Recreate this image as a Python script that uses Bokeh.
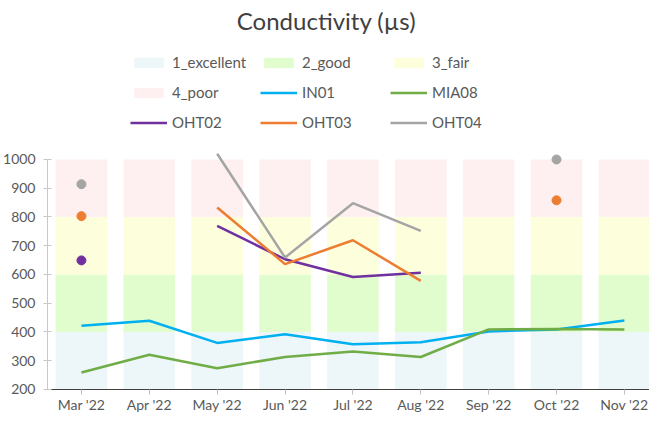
import math
from bokeh.plotting import figure
from bokeh.models import (Legend, LegendItem, FixedTicker, Range1d, Label,
                          LinearAxis)
from bokeh.embed import file_html
from bokeh.resources import INLINE

nan = float("nan")

months = ["Mar '22", "Apr '22", "May '22", "Jun '22", "Jul '22",
          "Aug '22", "Sep '22", "Oct '22", "Nov '22"]

band_names = ["1_excellent", "2_good", "3_fair", "4_poor"]
band_edges = [200, 400, 600, 800, 1000]
band_colors = ["#edf6f9", "#e2fdcd", "#fdfedc", "#fef0f0"]

series_names = ["IN01", "MIA08", "OHT02", "OHT03", "OHT04"]
IN01 = [422, 439, 362, 392, 357, 364, 402, 409, 440]
MIA08 = [259, 321, 274, 313, 332, 313, 409, 410, 409]
OHT02 = [649, nan, 769, 653, 591, 606, nan, nan, nan]
OHT03 = [803, nan, 833, 636, 719, 578, nan, 858, nan]
OHT04 = [914, nan, 1020, 659, 848, 752, nan, 1000, nan]
series_colors = ["#00b0f0", "#70ad47", "#7030a0", "#ed7d31", "#a5a5a5"]

y_ticks = [200, 300, 400, 500, 600, 700, 800, 900, 1000]

FONT = "Lato"
TXT = "#595959"

xi = list(range(len(months)))

# the frame fills the figure; the axes are bounded / pinned to the 200..1000 area
p = figure(width=649, height=414, output_backend="svg", toolbar_location=None,
           x_range=Range1d(-0.5, 8.37), y_range=Range1d(113, 1553),
           x_axis_location=None,
           min_border_left=43, min_border_right=0, min_border_top=0,
           min_border_bottom=0)
p.outline_line_color = None
p.xgrid.visible = False
p.ygrid.visible = False
p.background_fill_color = "white"
p.border_fill_color = "white"

bars = []
for k, (name, col) in enumerate(zip(band_names, band_colors)):
    r = p.vbar(x=xi, bottom=band_edges[k], top=band_edges[k + 1], width=0.76,
               fill_color=col, line_color=None)
    bars.append(r)

series = [IN01, MIA08, OHT02, OHT03, OHT04]
line_rs = []
for name, vals, col in zip(series_names, series, series_colors):
    r = p.line(xi, vals, line_width=2.5, line_color=col)
    line_rs.append(r)
    iso_x, iso_y = [], []
    for i, v in enumerate(vals):
        if math.isnan(v):
            continue
        prev_nan = i == 0 or math.isnan(vals[i - 1])
        next_nan = i == len(vals) - 1 or math.isnan(vals[i + 1])
        if prev_nan and next_nan:
            iso_x.append(i)
            iso_y.append(v)
    if iso_x:
        p.scatter(iso_x, iso_y, size=9, fill_color=col, line_color=col)

# x axis pinned at the bottom of the value range
xaxis = LinearAxis(fixed_location=band_edges[0], ticker=FixedTicker(ticks=xi),
                   major_label_overrides={i: m for i, m in enumerate(months)})
xaxis.minor_tick_line_color = None
xaxis.axis_line_color = "#404040"
xaxis.axis_line_width = 1.2
xaxis.major_tick_line_color = "#bfbfbf"
xaxis.major_tick_in = 0
xaxis.major_tick_out = 5
xaxis.major_label_standoff = 2
xaxis.major_label_text_font = FONT
xaxis.major_label_text_font_size = "14px"
xaxis.major_label_text_color = TXT
p.add_layout(xaxis, "below")

p.yaxis.ticker = FixedTicker(ticks=y_ticks)
p.yaxis.bounds = (200, 1000)
p.yaxis.minor_tick_line_color = None
p.yaxis.axis_line_color = "#c8c8c8"
p.yaxis.major_tick_line_color = "#c8c8c8"
p.yaxis.major_tick_in = 4
p.yaxis.major_tick_out = 4
p.yaxis.major_label_standoff = 8
p.yaxis.major_label_text_font = FONT
p.yaxis.major_label_text_font_size = "14px"
p.yaxis.major_label_text_color = TXT

# legend (location = bottom-left corner, pixels from the frame's bottom-left)
items = [LegendItem(label=n, renderers=[r]) for n, r in zip(band_names, bars)]
items += [LegendItem(label=n, renderers=[r]) for n, r in zip(series_names, line_rs)]
legend = Legend(items=items, location=(83, 282), orientation="horizontal", ncols=3,
                padding=0, margin=0, spacing=10, glyph_width=37, glyph_height=13,
                label_standoff=5, label_width=78, label_height=20,
                label_text_font=FONT, label_text_font_size="15px",
                label_text_color=TXT, border_line_color=None,
                background_fill_alpha=0)
p.add_layout(legend, "center")

title = Label(x=279, y=394, x_units="screen", y_units="screen",
              text="Conductivity (µs)", text_align="center",
              text_baseline="alphabetic", text_font=FONT,
              text_font_size="24px", text_color="#404040")
p.add_layout(title)

open("out.html", "w").write(file_html(p, INLINE))
